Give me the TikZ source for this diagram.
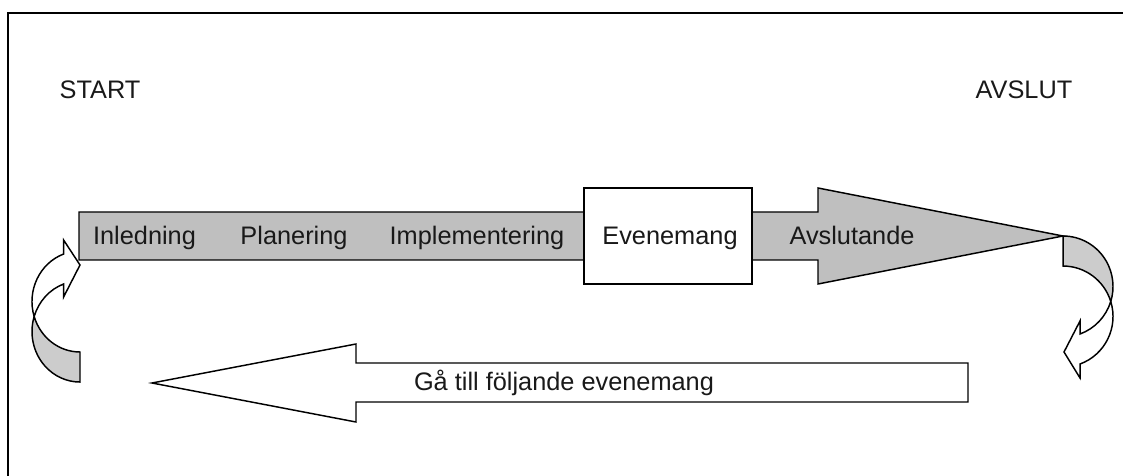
\documentclass[tikz,border=0pt]{standalone}
\usepackage{fontspec}
\setmainfont{Liberation Sans}
\begin{document}
\begin{tikzpicture}[x=0.75pt,y=0.75pt,
  shape line/.style={draw=black,line width=1.1pt,line join=miter},
  bandfill/.style={fill=black!25},
  backfill/.style={fill=black!20},
  lbl/.style={inner sep=0pt,anchor=base,text=black!90,font=\fontsize{19}{23}\selectfont}]
\clip (0,0) rectangle (1123,475);
% frame (only left and top edges visible)
\draw[line width=1.6pt] (8,-10) -- (8,462) -- (1140,462);
% main process arrow
\draw[shape line,bandfill] (79,263) -- (818,263) -- (818,287) -- (1063,239)
  -- (818,191) -- (818,215) -- (79,215) -- cycle;
\node[shape line,fill=white,minimum width=126pt,minimum height=72pt,inner sep=0pt]
  (even) at (668,239) {};
% right curved arrow: back (gray) part
\draw[shape line,backfill] (1063,239)
  arc[start angle=90,end angle=-17.3,x radius=37.5pt,y radius=37.875pt]
  arc[start angle=17.3,end angle=90,x radius=37.5pt,y radius=37.875pt] -- cycle;
% right curved arrow: front (white) part
\draw[shape line,fill=white] (1110.74,173.5)
  arc[start angle=17.3,end angle=-70.1,x radius=37.5pt,y radius=37.875pt]
  -- (1080,97) -- (1064,123) -- (1080,154) -- (1080,141)
  arc[start angle=-70.1,end angle=-17.3,x radius=37.5pt,y radius=37.875pt] -- cycle;
% left curved arrow: back (gray) part
\draw[shape line,backfill] (80,123)
  arc[start angle=270,end angle=197.3,x radius=36pt,y radius=37.875pt]
  arc[start angle=162.7,end angle=270,x radius=36pt,y radius=37.875pt] -- cycle;
% left curved arrow: front (white) part
\draw[shape line,fill=white] (34.16,158.5)
  arc[start angle=197.3,end angle=110,x radius=36pt,y radius=37.875pt]
  -- (63.6,235) -- (80,210) -- (63.6,178) -- (63.6,191)
  arc[start angle=110,end angle=162.7,x radius=36pt,y radius=37.875pt] -- cycle;
% return arrow
\draw[shape line,fill=white] (968,112) -- (356,112) -- (356,131) -- (152,92)
  -- (356,53) -- (356,73) -- (968,73) -- cycle;
% labels
\node[lbl] (start) at (100,376) {START};
\node[lbl] (avslut) at (1024,376) {AVSLUT};
\node[lbl] (inl) at (144.5,230) {Inledning};
\node[lbl] (plan) at (294,230) {Planering};
\node[lbl] (impl) at (477,230) {Implementering};
\node[lbl] (evtxt) at (670,230) {Evenemang};
\node[lbl] (avsl) at (852,230) {Avslutande};
\node[lbl] (gatill) at (564,85) {Gå till följande evenemang};
\end{tikzpicture}
\end{document}
